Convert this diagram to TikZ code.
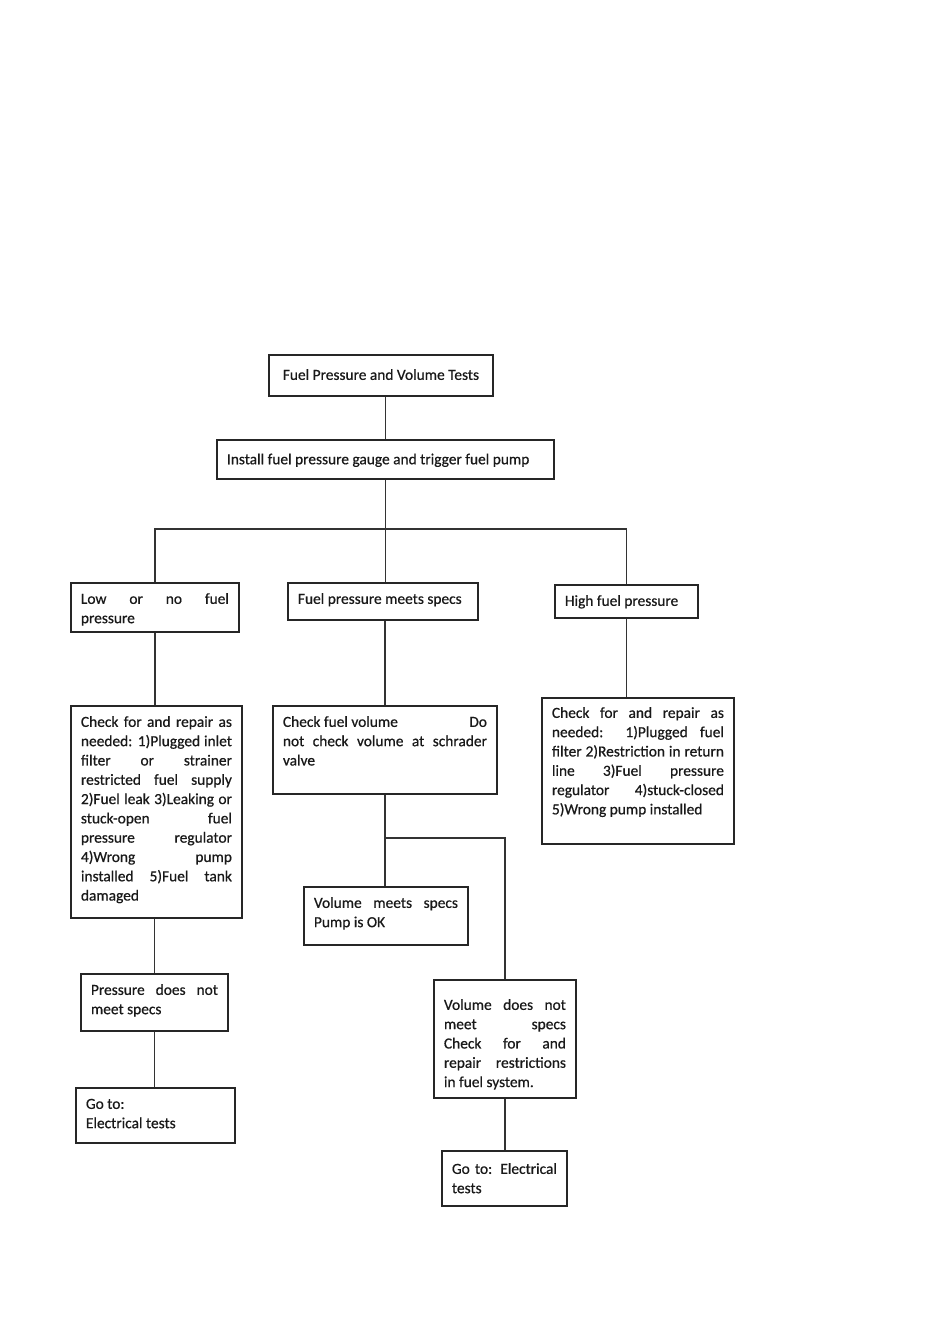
\documentclass[tikz,border=0pt]{standalone}
\usepackage{fontspec}
\setmainfont{Carlito}[FakeBold=0.6]
\newcommand{\boxtxt}[4][3.7pt]{\parbox[c][#3][t]{#2}{\vspace*{#1}\strut #4}}
\begin{document}
\begin{tikzpicture}[x=0.5pt,y=-0.5pt,
		box/.style={draw=black!85, line width=0.95pt, anchor=north west, inner xsep=5pt, inner ysep=0pt,
			text=black!90, font=\fontsize{7.7pt}{9.65pt}\selectfont},
		link/.style={draw=black!80, line width=0.9pt}]
	\useasboundingbox[fill=white] (0,0) rectangle (932,1323);
	\node[box] (title) at (268,354) {\boxtxt[5.7pt]{102pt}{20.5pt}{\centering Fuel Pressure and Volume Tests}};
	\node[box] (install) at (216,439) {\boxtxt[5.4pt]{158.5pt}{19.5pt}{Install fuel pressure gauge and trigger fuel pump}};
	\node[box] (low) at (70,582) {\boxtxt{74pt}{24.5pt}{Low or no fuel\linebreak pressure}};
	\node[box] (meets) at (287,582) {\boxtxt{85pt}{18.5pt}{Fuel pressure meets specs}};
	\node[box] (high) at (554,584) {\boxtxt{61.5pt}{16.5pt}{High fuel pressure}};
	\node[box] (leftcheck) at (70,705) {\boxtxt{75.5pt}{106pt}{Check for and repair as\linebreak needed: 1)Plugged inlet\linebreak filter or strainer\linebreak restricted fuel supply\linebreak 2)Fuel leak 3)Leaking or\linebreak stuck-open fuel\linebreak pressure regulator\linebreak 4)Wrong pump\linebreak installed 5)Fuel tank\linebreak damaged}};
	\node[box] (volume) at (272,705) {\boxtxt{102pt}{44pt}{Check fuel volume\hfill Do\linebreak not check volume at schrader\linebreak valve}};
	\node[box] (rightcheck) at (541,697) {\boxtxt[3.2pt]{86pt}{73pt}{Check for and repair as\linebreak needed: 1)Plugged fuel\linebreak filter 2)Restriction in return\linebreak line 3)Fuel pressure\linebreak regulator 4)stuck-closed\linebreak 5)Wrong pump installed}};
	\node[box] (voltok) at (303,886) {\boxtxt{72pt}{29pt}{Volume meets specs\linebreak Pump is OK}};
	\node[box] (pnot) at (80,973) {\boxtxt{63.5pt}{28.5pt}{Pressure does not\linebreak meet specs}};
	\node[box] (goto1) at (75,1087) {\boxtxt{69.5pt}{27.5pt}{Go to:\\Electrical tests}};
	\node[box] (volnot) at (433,979) {\boxtxt[8.2pt]{61pt}{59pt}{Volume does not\linebreak meet specs\linebreak Check for and\linebreak repair restrictions\linebreak in fuel system.}};
	\node[box] (goto2) at (441,1150) {\boxtxt[4.7pt]{52.5pt}{27.5pt}{Go to: Electrical\linebreak tests}};
	\coordinate (bus) at (install.south |- 0,529);
	\coordinate (split) at (volume.south |- 0,838);
	\draw[link] (install.south |- title.south) -- (install.north);
	\draw[link] (install.south) -- (install.south |- meets.north);
	\draw[link] (low.north) |- (bus) -| (high.north);
	\draw[link] (low.south) -- (low.south |- leftcheck.north);
	\draw[link] (pnot.north |- leftcheck.south) -- (pnot.north);
	\draw[link] (pnot.south) -- (pnot.south |- goto1.north);
	\draw[link] (meets.south -| volume.north) -- (volume.north);
	\draw[link] (volume.south) -- (volume.south |- voltok.north);
	\draw[link] (split) -| (volnot.north);
	\draw[link] (volnot.south) -- (volnot.south |- goto2.north);
	\draw[link] (high.south) -- (high.south |- rightcheck.north);
\end{tikzpicture}
\end{document}
